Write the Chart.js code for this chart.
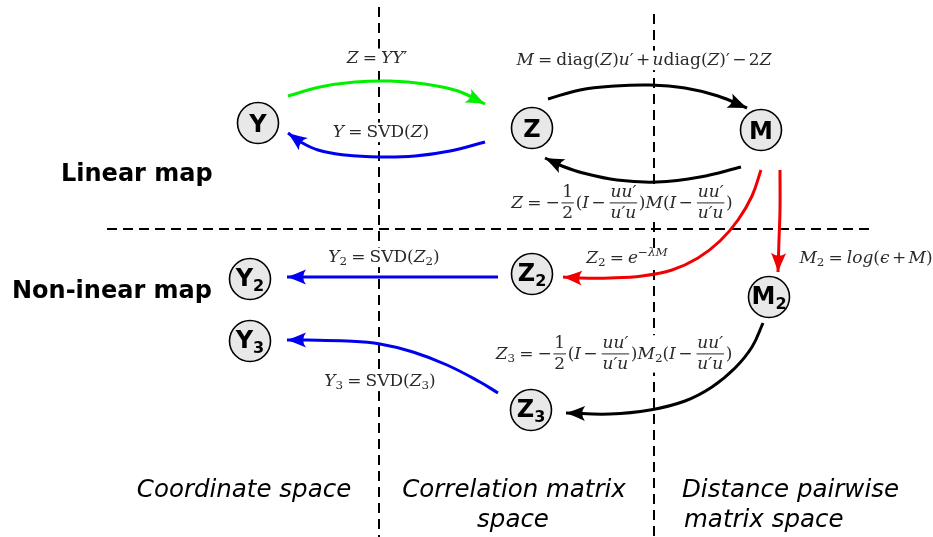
<!DOCTYPE html>
<html>
<head>
<meta charset="utf-8">
<script src="https://cdn.jsdelivr.net/npm/chart.js@4"></script>
<style>
  html, body { margin: 0; padding: 0; background: #fff; }
  canvas { display: block; }
</style>
</head>
<body>
<canvas id="diagram" width="933" height="537"></canvas>
<script>
// nodes, placed in picture pixels (x to the right, y down)
const nodeNames = ['Y', 'Z', 'M', 'Y2', 'Z2', 'M2', 'Y3', 'Z3']
const nodeX = [258, 532, 761, 250, 532, 769, 250, 531]
const nodeY = [123, 128, 130, 279, 274, 297, 341, 410]

// arrows: points, the last one is the tip
const arrowYZ = [[288, 96], [320, 87], [355, 82], [390, 81], [425, 84], [458, 91], [485, 104]]
const arrowZY = [[485, 142], [450, 151], [415, 156], [380, 157], [345, 155], [318, 150], [299, 141], [288, 133]]
const arrowZM = [[548, 99], [580, 90], [615, 86], [650, 85], [685, 88], [718, 96], [747, 108]]
const arrowMZ = [[741, 167], [700, 177], [657, 182], [617, 180], [583, 173], [562, 166], [545, 158]]
const arrowMZ2 = [[761, 170], [752, 196], [738, 220], [720, 241], [698, 258], [672, 270], [642, 276], [610, 278], [580, 278], [563, 277]]
const arrowMM2 = [[780, 170], [780, 210], [779, 240], [778, 272]]
const arrowZ2Y2 = [[498, 277], [287, 277]]
const arrowZ3Y3 = [[498, 393], [480, 382], [447, 365], [413, 352], [380, 344], [347, 341], [307, 340], [287, 340]]
const arrowM2Z3 = [[763, 323], [752, 347], [735, 368], [712, 387], [685, 401], [650, 410], [610, 414], [566, 413]]

const arrows = [
    { pts: arrowYZ, color: '#00f000' },
    { pts: arrowZY, color: '#0000f0' },
    { pts: arrowZM, color: '#000000' },
    { pts: arrowMZ, color: '#000000' },
    { pts: arrowMZ2, color: '#f00000' },
    { pts: arrowMM2, color: '#f00000' },
    { pts: arrowZ2Y2, color: '#0000f0' },
    { pts: arrowZ3Y3, color: '#0000f0' },
    { pts: arrowM2Z3, color: '#000000' }
]

// dashed separators
const guideV1 = [[379, 7], [379, 537]]
const guideV2 = [[654, 14], [654, 537]]
const guideH = [[107, 229], [875, 229]]

// formula pieces: i = italic, r = roman, rel / bin get TeX-like spacing
const i = t => ({ t, s: 'i' })
const r = t => ({ t, s: 'r' })
const rel = t => ({ t, s: 'r', pad: 0.24 })
const bin = t => ({ t, s: 'r', pad: 0.14 })
const sub = t => ({ t, s: 'sub' })
const sup = t => ({ t, s: 'sup' })
const frac = (n, d, s) => ({ n, d, s })

const fZ = [i('Z'), rel('='), i('YY'), r('′')]
const fY = [i('Y'), rel('='), r('SVD('), i('Z'), r(')')]
const fM = [i('M'), rel('='), r('diag('), i('Z'), r(')'), i('u'), r('′'), bin('+'), i('u'), r('diag('), i('Z'), r(')′'), bin('−'), r('2'), i('Z')]
const fZM = [i('Z'), rel('='), r('−'), frac('1', '2', 'r'), r('('), i('I'), bin('−'), frac('uu′', 'u′u', 'i'), r(')'), i('M'), r('('), i('I'), bin('−'), frac('uu′', 'u′u', 'i'), r(')')]
const fZ2 = [i('Z'), sub('2'), rel('='), i('e'), sup('−λM')]
const fM2 = [i('M'), sub('2'), rel('='), i('log'), r('('), i('ϵ'), bin('+'), i('M'), r(')')]
const fY2 = [i('Y'), sub('2'), rel('='), r('SVD('), i('Z'), sub('2'), r(')')]
const fZ3 = [i('Z'), sub('3'), rel('='), r('−'), frac('1', '2', 'r'), r('('), i('I'), bin('−'), frac('uu′', 'u′u', 'i'), r(')'), i('M'), sub('2'), r('('), i('I'), bin('−'), frac('uu′', 'u′u', 'i'), r(')')]
const fY3 = [i('Y'), sub('3'), rel('='), r('SVD('), i('Z'), sub('3'), r(')')]

// formula, centre x, baseline y
const formulas = [
    [fZ, 377, 63], [fY, 381, 137], [fM, 644, 65], [fZM, 622, 208],
    [fZ2, 627, 263], [fM2, 866, 263], [fY2, 384, 262], [fZ3, 614, 359], [fY3, 380, 386]
]

// plain labels: text, x, baseline y, font, align
const labels = [
    ['Linear map', 61, 181, 'bold 24px "DejaVu Sans"', 'left'],
    ['Non-inear map', 12, 298, 'bold 24px "DejaVu Sans"', 'left'],
    ['Coordinate space', 244, 497, 'oblique 24.5px "DejaVu Sans"', 'center'],
    ['Correlation matrix', 514, 497, 'oblique 24.5px "DejaVu Sans"', 'center'],
    ['space', 513, 527, 'oblique 24.5px "DejaVu Sans"', 'center'],
    ['Distance pairwise', 682, 497, 'oblique 24.5px "DejaVu Sans"', 'left'],
    ['matrix space', 684, 527, 'oblique 24.5px "DejaVu Sans"', 'left']
]

const MATH_SIZE = 17

const mathFont = (s, size) => {
    const small = s === 'sub' || s === 'sup'
    const it = s === 'i' || s === 'sup'
    return (it ? 'italic ' : '') + (small ? size * 0.7 : size) + 'px "DejaVu Serif"'
}

const tokenWidth = (ctx, tok, size) => {
    ctx.font = mathFont(tok.s, size)
    if (tok.n) return Math.max(ctx.measureText(tok.n).width, ctx.measureText(tok.d).width) + size * 0.3
    return ctx.measureText(tok.t).width + 2 * (tok.pad || 0) * size
}

const drawMath = (ctx, toks, cx, base, size) => {
    const widths = toks.map(t => tokenWidth(ctx, t, size))
    const total = widths.reduce((a, b) => a + b, 0)
    const hasFrac = toks.some(t => t.n)
    const top = hasFrac ? base - size * 1.4 : base - size * 0.85
    const bottom = hasFrac ? base + size * 0.8 : base + size * 0.3
    ctx.fillStyle = '#fff'
    ctx.fillRect(cx - total / 2 - 2, top, total + 4, bottom - top)
    ctx.fillStyle = '#2a2a2a'
    ctx.textBaseline = 'alphabetic'
    ctx.textAlign = 'left'
    let x = cx - total / 2
    toks.forEach((tok, k) => {
        ctx.font = mathFont(tok.s, size)
        if (tok.n) {
            const w = widths[k]
            const axis = base - size * 0.3
            ctx.textAlign = 'center'
            ctx.fillText(tok.n, x + w / 2, base - size * 0.66)
            ctx.fillText(tok.d, x + w / 2, base + size * 0.6)
            ctx.textAlign = 'left'
            ctx.fillRect(x + size * 0.1, axis - 0.5, w - size * 0.2, 1)
        } else {
            let y = base
            if (tok.s === 'sub') y = base + size * 0.18
            if (tok.s === 'sup') y = base - size * 0.42
            ctx.fillText(tok.t, x + (tok.pad || 0) * size, y)
        }
        x += widths[k]
    })
}

const drawArrowHead = (ctx, x, y, ang, color) => {
    const L = 19, W = 15
    ctx.save()
    ctx.translate(x, y)
    ctx.rotate(ang)
    ctx.fillStyle = color
    ctx.beginPath()
    ctx.moveTo(0, 0)
    ctx.quadraticCurveTo(-L * 0.45, -W * 0.2, -L, -W / 2)
    ctx.quadraticCurveTo(-L * 0.7, 0, -L, W / 2)
    ctx.quadraticCurveTo(-L * 0.45, W * 0.2, 0, 0)
    ctx.closePath()
    ctx.fill()
    ctx.restore()
}

const toXY = pts => pts.map(p => ({ x: p[0], y: p[1] }))

const guideSet = (pts, order, withText) => ({
    type: 'line', data: toXY(pts), borderColor: '#000', borderWidth: 2,
    borderDash: [10, 6], pointRadius: 0, tension: 0, order, withText
})

const datasets = [
    {
        type: 'scatter',
        data: nodeX.map((x, k) => ({ x, y: nodeY[k] })),
        pointRadius: 20.5, pointBackgroundColor: '#e8e8e8',
        pointBorderColor: '#000', pointBorderWidth: 1.6, order: 1, isNodes: true
    },
    ...arrows.map(a => ({
        type: 'line', data: toXY(a.pts), borderColor: a.color, borderWidth: 3,
        pointRadius: 0, tension: 0.4, fill: false, order: 2, arrowColor: a.color
    })),
    guideSet(guideH, 5),
    guideSet(guideV1, 4),
    guideSet(guideV2, 3, true)
]

const diagramPlugin = {
    id: 'diagram',
    afterDatasetDraw(chart, args) {
        const ds = chart.data.datasets[args.index]
        const ctx = chart.ctx
        const sx = chart.scales.x, sy = chart.scales.y
        if (ds.withText) {
            ctx.save()
            formulas.forEach(([toks, x, y]) => drawMath(ctx, toks, sx.getPixelForValue(x), sy.getPixelForValue(y), MATH_SIZE))
            labels.forEach(([text, x, y, font, align]) => {
                ctx.font = font
                ctx.fillStyle = '#000'
                ctx.textAlign = align
                ctx.textBaseline = 'alphabetic'
                ctx.fillText(text, sx.getPixelForValue(x), sy.getPixelForValue(y))
            })
            ctx.restore()
        }
        if (ds.arrowColor) {
            const pts = args.meta.data
            const last = pts[pts.length - 1]
            const ang = Math.atan2(last.y - last.cp1y, last.x - last.cp1x)
            drawArrowHead(ctx, last.x, last.y, ang, ds.arrowColor)
        }
        if (ds.isNodes) {
            ctx.save()
            ctx.fillStyle = '#000'
            ctx.textBaseline = 'alphabetic'
            ctx.textAlign = 'left'
            args.meta.data.forEach((pt, k) => {
                const name = nodeNames[k]
                const main = name[0], low = name.slice(1)
                ctx.font = 'bold 24px "DejaVu Sans"'
                const w1 = ctx.measureText(main).width
                ctx.font = 'bold 16px "DejaVu Sans"'
                const w2 = low ? ctx.measureText(low).width : 0
                const x = pt.x - (w1 + w2) / 2
                ctx.font = 'bold 24px "DejaVu Sans"'
                ctx.fillText(main, x, pt.y + (low ? 7 : 8.5))
                if (low) {
                    ctx.font = 'bold 16px "DejaVu Sans"'
                    ctx.fillText(low, x + w1, pt.y + 12)
                }
            })
            ctx.restore()
        }
    }
}

new Chart(document.getElementById('diagram'), {
    data: { datasets },
    options: {
        responsive: false,
        animation: false,
        events: [],
        layout: { padding: 0, autoPadding: false },
        scales: {
            x: { type: 'linear', min: 0, max: 933, display: false },
            y: { type: 'linear', min: 0, max: 537, reverse: true, display: false }
        },
        plugins: { legend: { display: false }, tooltip: { enabled: false } }
    },
    plugins: [diagramPlugin]
})
</script>
</body>
</html>
